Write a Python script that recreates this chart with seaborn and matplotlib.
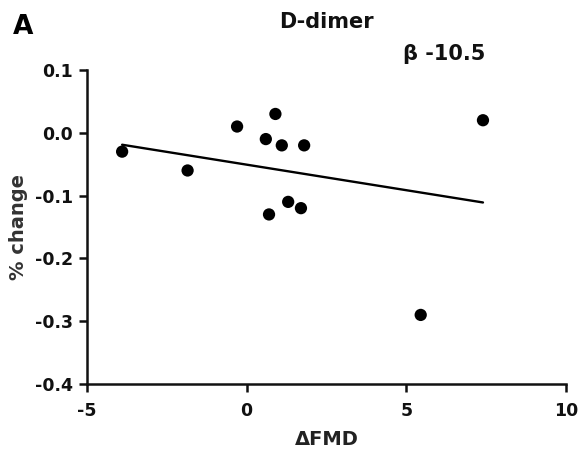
import matplotlib
matplotlib.use("Agg")
import matplotlib.pyplot as plt
import seaborn as sns
import pandas as pd

# Data
delta_fmd = [-3.9, -1.85, -0.3, 0.9, 0.6, 1.1, 1.8, 1.3, 1.7, 0.7, 7.4, 5.45]
pct_change = [-0.03, -0.06, 0.01, 0.03, -0.01, -0.02, -0.02, -0.11, -0.12, -0.13, 0.02, -0.29]
x_ticks = [-5, 0, 5, 10]
y_ticks = [0.1, 0.0, -0.1, -0.2, -0.3, -0.4]
y_tick_labels = ["0.1", "0.0", "-0.1", "-0.2", "-0.3", "-0.4"]
title = "D-dimer"
panel_label = "A"
beta_text = "β -10.5"

df = pd.DataFrame({"dfmd": delta_fmd, "change": pct_change})

sns.set_style("ticks")
plt.rcParams["font.family"] = ["DejaVu Sans"]
plt.rcParams["font.weight"] = "bold"

fig = plt.figure(figsize=(5.82, 4.65), dpi=100)
ax = fig.add_axes([87 / 582, 1 - 384 / 465, (566 - 87) / 582, (384 - 70) / 465])

sns.regplot(data=df, x="dfmd", y="change", ax=ax, ci=None, truncate=True,
            scatter_kws=dict(s=78, color="black", edgecolors="none", alpha=1, zorder=3),
            line_kws=dict(color="black", lw=1.7, zorder=2))

ax.set_xlim(-5, 10)
ax.set_ylim(-0.4, 0.1)
ax.set_xticks(x_ticks)
ax.set_xticklabels([str(t) for t in x_ticks])
ax.set_yticks(y_ticks)
ax.set_yticklabels(y_tick_labels)

for side in ["top", "right"]:
    ax.spines[side].set_visible(False)
for side in ["left", "bottom"]:
    ax.spines[side].set_linewidth(1.8)
    ax.spines[side].set_color("#111111")

ax.tick_params(axis="both", direction="out", length=6, width=1.8, color="#111111",
               labelsize=12.5, labelcolor="#111111")
ax.tick_params(axis="x", pad=7)
ax.tick_params(axis="y", pad=4)
for lab in ax.get_xticklabels() + ax.get_yticklabels():
    lab.set_fontweight("bold")

ax.set_xlabel("ΔFMD", fontsize=14, fontweight="bold", color="#222222", labelpad=7)
ax.set_ylabel("% change", fontsize=14, fontweight="bold", color="#333333", labelpad=5)

fig.text(326 / 582, 1 - 22 / 465, title, ha="center", va="center",
         fontsize=15, fontweight="bold", color="#111111")
fig.text(13 / 582, 1 - 27 / 465, panel_label, ha="left", va="center",
         fontsize=19, fontweight="bold", color="black")
fig.text(403 / 582, 1 - 54 / 465, beta_text, ha="left", va="center",
         fontsize=15, fontweight="bold", color="#111111")

fig.savefig("out.png", dpi=100)
